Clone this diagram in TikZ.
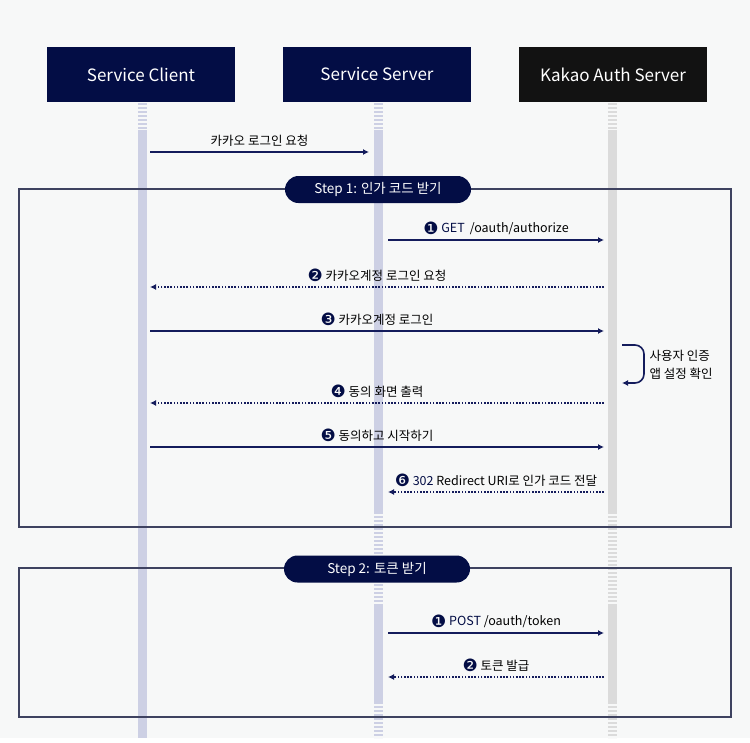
\documentclass[tikz,border=0pt]{standalone}
\usepackage{fontspec}
\setmainfont{Noto Sans CJK KR}
\newfontfamily\dejavu{DejaVu Sans}
\usetikzlibrary{arrows.meta,positioning}
\definecolor{bg}{HTML}{F7F8F8}
\definecolor{navy}{HTML}{030D45}
\definecolor{kblack}{HTML}{121212}
\definecolor{lav}{HTML}{CDD0E4}
\definecolor{gry}{HTML}{DBDBDB}
\definecolor{framec}{HTML}{3E4260}
\definecolor{arrowc}{HTML}{141C5C}
\newcommand{\numc}[1]{\raisebox{-1.5pt}{\dejavu\fontsize{17}{17}\selectfont\color{navy}#1}}

\begin{document}
\begin{tikzpicture}
  [x=1pt,y=-1pt,
   every node/.style={font=\fontsize{12.5}{18}\selectfont},
   actor/.style={minimum width=188pt,minimum height=55pt,inner sep=0pt,fill=navy,
     text=white,font=\fontsize{17}{20}\selectfont},
   pill/.style={minimum width=186pt,minimum height=27pt,inner sep=0pt,fill=navy,
     text=white,rounded corners=13.5pt,font=\fontsize{13.5}{16}\selectfont},
   msg/.style={draw=arrowc,line width=1.6pt,-{Latex[length=6pt,width=6pt]}},
   reply/.style={msg,dash pattern=on 1.6pt off 1.6pt},
   frame/.style={draw=framec,line width=1.3pt},
   stripe/.style={line width=9pt,dash pattern=on 2pt off 2pt},
   life/.style={line width=9pt}]
  \fill[bg] (0,0) rectangle (750,738);

  % participants
  \node[actor] (sc) at (141,74.5) {Service Client};
  \node[actor] (ss) at (377,74.5) {Service Server};
  \node[actor,fill=kblack] (ka) at (613,74.5) {Kakao Auth Server};

  % lifelines
  \draw[stripe,lav] (142,103) -- (142,130);
  \draw[life,lav] (142,130) -- (142,738);
  \foreach \x/\c in {378/lav,612/gry} {
    \draw[stripe,\c] (\x,103) -- (\x,130);
    \draw[life,\c] (\x,130) -- (\x,512);
    \draw[stripe,\c] (\x,512) -- (\x,605);
    \draw[life,\c] (\x,605) -- (\x,702);
    \draw[stripe,\c] (\x,702) -- (\x,738);
  }

  % steps
  \draw[frame] (19,189) rectangle (731,527);
  \draw[frame] (19,568) rectangle (731,717);
  \node[pill] (st1) at (378,189.5) {Step 1: 인가 코드 받기};
  \node[pill] (st2) at (377,569) {Step 2: 토큰 받기};

  % arrow ends
  \coordinate (cR) at (150,0);
  \coordinate (sL) at (369,0);
  \coordinate (sR) at (388,0);
  \coordinate (kL) at (604,0);
  \coordinate (kR) at (622,0);

  \foreach \y/\from/\to/\how/\txt in {
      152/cR/sL/msg/{카카오 로그인 요청},
      240/sR/kL/msg/{\numc{❶} \textcolor{navy}{GET}\hspace{5pt}/oauth/authorize},
      287/kL/cR/reply/{\numc{❷} 카카오계정 로그인 요청},
      331/cR/kL/msg/{\numc{❸} 카카오계정 로그인},
      403/kL/cR/reply/{\numc{❹} 동의 화면 출력},
      447/cR/kL/msg/{\numc{❺} 동의하고 시작하기},
      492/kL/sR/reply/{\numc{❻} \textcolor{navy}{302} Redirect URI로 인가 코드 전달},
      633/sR/kL/msg/{\numc{❶} \textcolor{navy}{POST} /oauth/token},
      677/kL/sR/reply/{\numc{❷} 토큰 발급}}
    \draw[\how] (\from |- 0,\y) -- node[midway,above=1pt] {\txt} (\to |- 0,\y);

  % self call
  \draw[msg,rounded corners=9pt] (kR |- 0,345) -- (644,345) -- (644,383) -- (kR |- 0,383);
  \node[anchor=west,align=left] (auth) at (646,365) {사용자 인증\\앱 설정 확인};
\end{tikzpicture}
\end{document}
